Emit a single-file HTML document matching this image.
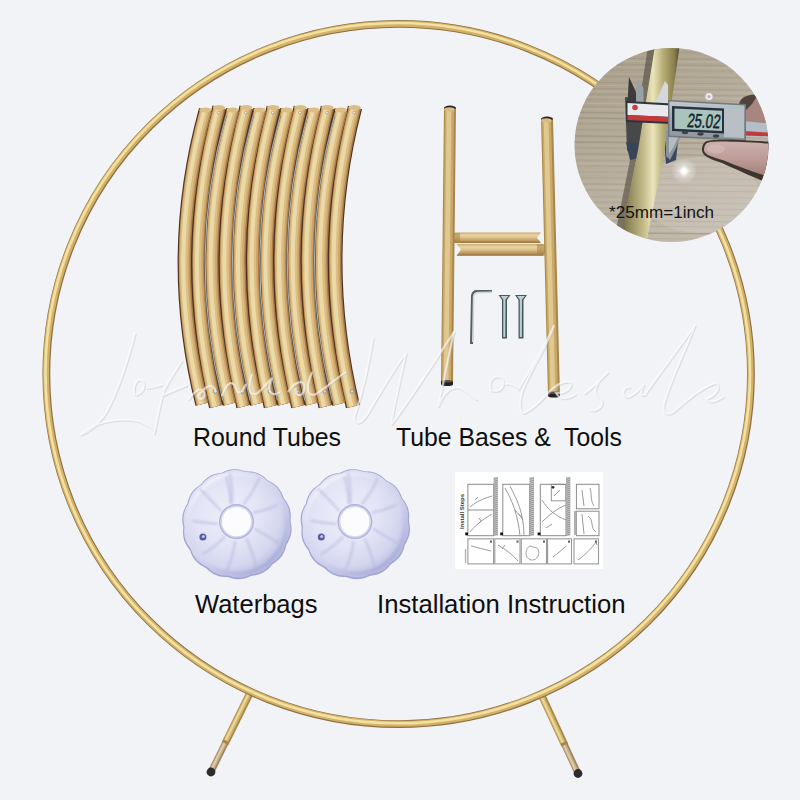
<!DOCTYPE html><html><head><meta charset="utf-8"><style>html,body{margin:0;padding:0;background:#f2f3f6;overflow:hidden}svg{display:block}</style></head><body><svg width="800" height="800" viewBox="0 0 800 800"><defs><linearGradient id="cbar" x1="0" y1="0" x2="0" y2="1"><stop offset="0" stop-color="#c8a66a"/><stop offset="0.25" stop-color="#ead8a6"/><stop offset="0.5" stop-color="#dcc088"/><stop offset="0.85" stop-color="#b48c54"/><stop offset="1" stop-color="#8c6a3c"/></linearGradient><clipPath id="pc"><circle cx="671.5" cy="145" r="97"/></clipPath><linearGradient id="wood" x1="0.1" y1="0" x2="0.7" y2="1"><stop offset="0" stop-color="#a89d88"/><stop offset="0.5" stop-color="#b6ad9c"/><stop offset="1" stop-color="#c4bdb0"/></linearGradient><linearGradient id="gtube" x1="0" y1="0" x2="1" y2="0"><stop offset="0" stop-color="#5a5436"/><stop offset="0.15" stop-color="#8a8256"/><stop offset="0.4" stop-color="#c2ba88"/><stop offset="0.56" stop-color="#eae4bc"/><stop offset="0.72" stop-color="#b8ae74"/><stop offset="0.9" stop-color="#8a7e4e"/><stop offset="1" stop-color="#46402c"/></linearGradient><radialGradient id="flare"><stop offset="0" stop-color="#ffffff" stop-opacity="1"/><stop offset="0.18" stop-color="#ffffff" stop-opacity="0.95"/><stop offset="0.45" stop-color="#f4f4f4" stop-opacity="0.45"/><stop offset="1" stop-color="#ffffff" stop-opacity="0"/></radialGradient><linearGradient id="skin" x1="0" y1="0" x2="0" y2="1"><stop offset="0" stop-color="#cdb0ac"/><stop offset="0.5" stop-color="#bc9a96"/><stop offset="1" stop-color="#a07c78"/></linearGradient><linearGradient id="body" x1="0" y1="0" x2="0" y2="1"><stop offset="0" stop-color="#c4ccd2"/><stop offset="0.3" stop-color="#a8b0b6"/><stop offset="1" stop-color="#8e969c"/></linearGradient><radialGradient id="bagg" cx="0.42" cy="0.4" r="0.62"><stop offset="0" stop-color="#eeeffa"/><stop offset="0.5" stop-color="#e2e3f5"/><stop offset="0.8" stop-color="#d4d6ee"/><stop offset="1" stop-color="#b6b9e0"/></radialGradient><linearGradient id="bagrim" x1="0.2" y1="0.1" x2="0.8" y2="0.95"><stop offset="0" stop-color="#ffffff" stop-opacity="0.5"/><stop offset="0.5" stop-color="#c0c3e6" stop-opacity="0"/><stop offset="1" stop-color="#9094ca" stop-opacity="0.45"/></linearGradient><filter id="blur1" x="-20%" y="-20%" width="140%" height="140%"><feGaussianBlur stdDeviation="1.3"/></filter></defs><rect width="800" height="800" fill="#f2f3f6"/><line x1="249.5" y1="694" x2="226.4" y2="740.8" stroke="#a88848" stroke-width="7.4"/><line x1="248.9" y1="694" x2="225.8" y2="740.8" stroke="#d2b46c" stroke-width="5"/><line x1="248.5" y1="694" x2="225.4" y2="740.8" stroke="#ecd89a" stroke-width="2"/><line x1="226.4" y1="740.8" x2="211" y2="772" stroke="#9c8462" stroke-width="6.6"/><line x1="225.9" y1="740.8" x2="210.5" y2="772" stroke="#c8b08c" stroke-width="4.2"/><line x1="225.5" y1="740.8" x2="210.1" y2="772" stroke="#e0ceaa" stroke-width="1.6"/><line x1="226.4" y1="740.8" x2="225.168" y2="743.2959999999999" stroke="#a88848" stroke-width="7.4"/><circle cx="211" cy="772" r="4.4" fill="#2c2c2c"/><line x1="542" y1="696" x2="563.6" y2="742.5" stroke="#a88848" stroke-width="7.4"/><line x1="541.4" y1="696" x2="563.0" y2="742.5" stroke="#d2b46c" stroke-width="5"/><line x1="541" y1="696" x2="562.6" y2="742.5" stroke="#ecd89a" stroke-width="2"/><line x1="563.6" y1="742.5" x2="578" y2="773.5" stroke="#9c8462" stroke-width="6.6"/><line x1="563.1" y1="742.5" x2="577.5" y2="773.5" stroke="#c8b08c" stroke-width="4.2"/><line x1="562.7" y1="742.5" x2="577.1" y2="773.5" stroke="#e0ceaa" stroke-width="1.6"/><line x1="563.6" y1="742.5" x2="564.7520000000001" y2="744.98" stroke="#a88848" stroke-width="7.4"/><circle cx="578" cy="773.5" r="4.4" fill="#2c2c2c"/><ellipse cx="398.65" cy="374.05" rx="352.3" ry="350.1" fill="none" stroke="#8c7046" stroke-width="7.8"/><ellipse cx="398.34999999999997" cy="373.75" rx="352.3" ry="350.1" fill="none" stroke="#d4b068" stroke-width="6"/><ellipse cx="397.75" cy="373.15000000000003" rx="352.3" ry="350.1" fill="none" stroke="#f2e2a0" stroke-width="2.6"/><path d="M206.0,110.0 Q165.5,256 202.5,404.0" fill="none" stroke="#4e3222" stroke-width="14.5"/><path d="M219.5,107.5 Q179.2,256 216.2,406.5" fill="none" stroke="#4e3222" stroke-width="14.5"/><path d="M233.1,110.0 Q193.0,256 229.9,404.0" fill="none" stroke="#4e3222" stroke-width="14.5"/><path d="M246.6,107.5 Q206.7,256 243.5,406.5" fill="none" stroke="#4e3222" stroke-width="14.5"/><path d="M260.2,110.0 Q220.4,256 257.2,404.0" fill="none" stroke="#4e3222" stroke-width="14.5"/><path d="M273.7,107.5 Q234.1,256 270.9,406.5" fill="none" stroke="#4e3222" stroke-width="14.5"/><path d="M287.3,110.0 Q247.9,256 284.6,404.0" fill="none" stroke="#4e3222" stroke-width="14.5"/><path d="M300.8,107.5 Q261.6,256 298.3,406.5" fill="none" stroke="#4e3222" stroke-width="14.5"/><path d="M314.4,110.0 Q275.3,256 312.0,404.0" fill="none" stroke="#4e3222" stroke-width="14.5"/><path d="M327.9,107.5 Q289.0,256 325.6,406.5" fill="none" stroke="#4e3222" stroke-width="14.5"/><path d="M341.5,110.0 Q302.8,256 339.3,404.0" fill="none" stroke="#4e3222" stroke-width="14.5"/><path d="M355.0,107.5 Q316.5,256 353.0,406.5" fill="none" stroke="#4e3222" stroke-width="14.5"/><path d="M206.0,110.0 Q165.5,256 202.5,404.0" fill="none" stroke="#a47c4c" stroke-width="12.3"/><path d="M205.5,110.0 Q165.0,256 202.0,404.0" fill="none" stroke="#cfa66a" stroke-width="10.4"/><path d="M205.0,110.0 Q164.5,256 201.5,404.0" fill="none" stroke="#dcbe84" stroke-width="7.6"/><path d="M204.5,110.0 Q164.0,256 201.0,404.0" fill="none" stroke="#ebdaa8" stroke-width="4"/><ellipse cx="205.5" cy="110.0" rx="6.1" ry="2.6" fill="#dcbe84"/><path d="M233.1,110.0 Q193.0,256 229.9,404.0" fill="none" stroke="#a47c4c" stroke-width="12.3"/><path d="M232.6,110.0 Q192.5,256 229.4,404.0" fill="none" stroke="#cfa66a" stroke-width="10.4"/><path d="M232.1,110.0 Q192.0,256 228.9,404.0" fill="none" stroke="#dcbe84" stroke-width="7.6"/><path d="M231.6,110.0 Q191.5,256 228.4,404.0" fill="none" stroke="#ebdaa8" stroke-width="4"/><ellipse cx="232.6" cy="110.0" rx="6.1" ry="2.6" fill="#dcbe84"/><path d="M260.2,110.0 Q220.4,256 257.2,404.0" fill="none" stroke="#a47c4c" stroke-width="12.3"/><path d="M259.7,110.0 Q219.9,256 256.7,404.0" fill="none" stroke="#cfa66a" stroke-width="10.4"/><path d="M259.2,110.0 Q219.4,256 256.2,404.0" fill="none" stroke="#dcbe84" stroke-width="7.6"/><path d="M258.7,110.0 Q218.9,256 255.7,404.0" fill="none" stroke="#ebdaa8" stroke-width="4"/><ellipse cx="259.7" cy="110.0" rx="6.1" ry="2.6" fill="#dcbe84"/><path d="M287.3,110.0 Q247.9,256 284.6,404.0" fill="none" stroke="#a47c4c" stroke-width="12.3"/><path d="M286.8,110.0 Q247.4,256 284.1,404.0" fill="none" stroke="#cfa66a" stroke-width="10.4"/><path d="M286.3,110.0 Q246.9,256 283.6,404.0" fill="none" stroke="#dcbe84" stroke-width="7.6"/><path d="M285.8,110.0 Q246.4,256 283.1,404.0" fill="none" stroke="#ebdaa8" stroke-width="4"/><ellipse cx="286.8" cy="110.0" rx="6.1" ry="2.6" fill="#dcbe84"/><path d="M314.4,110.0 Q275.3,256 312.0,404.0" fill="none" stroke="#a47c4c" stroke-width="12.3"/><path d="M313.9,110.0 Q274.8,256 311.5,404.0" fill="none" stroke="#cfa66a" stroke-width="10.4"/><path d="M313.4,110.0 Q274.3,256 311.0,404.0" fill="none" stroke="#dcbe84" stroke-width="7.6"/><path d="M312.9,110.0 Q273.8,256 310.5,404.0" fill="none" stroke="#ebdaa8" stroke-width="4"/><ellipse cx="313.9" cy="110.0" rx="6.1" ry="2.6" fill="#dcbe84"/><path d="M341.5,110.0 Q302.8,256 339.3,404.0" fill="none" stroke="#a47c4c" stroke-width="12.3"/><path d="M341.0,110.0 Q302.3,256 338.8,404.0" fill="none" stroke="#cfa66a" stroke-width="10.4"/><path d="M340.5,110.0 Q301.8,256 338.3,404.0" fill="none" stroke="#dcbe84" stroke-width="7.6"/><path d="M340.0,110.0 Q301.3,256 337.8,404.0" fill="none" stroke="#ebdaa8" stroke-width="4"/><ellipse cx="341.0" cy="110.0" rx="6.1" ry="2.6" fill="#dcbe84"/><path d="M219.5,107.5 Q179.2,256 216.2,406.5" fill="none" stroke="#a47c4c" stroke-width="12.3"/><path d="M219.0,107.5 Q178.7,256 215.7,406.5" fill="none" stroke="#cfa66a" stroke-width="10.4"/><path d="M218.5,107.5 Q178.2,256 215.2,406.5" fill="none" stroke="#dcbe84" stroke-width="7.6"/><path d="M218.0,107.5 Q177.7,256 214.7,406.5" fill="none" stroke="#ebdaa8" stroke-width="4"/><ellipse cx="219.0" cy="107.5" rx="6.1" ry="2.6" fill="#dcbe84"/><path d="M246.6,107.5 Q206.7,256 243.5,406.5" fill="none" stroke="#a47c4c" stroke-width="12.3"/><path d="M246.1,107.5 Q206.2,256 243.0,406.5" fill="none" stroke="#cfa66a" stroke-width="10.4"/><path d="M245.6,107.5 Q205.7,256 242.5,406.5" fill="none" stroke="#dcbe84" stroke-width="7.6"/><path d="M245.1,107.5 Q205.2,256 242.0,406.5" fill="none" stroke="#ebdaa8" stroke-width="4"/><ellipse cx="246.1" cy="107.5" rx="6.1" ry="2.6" fill="#dcbe84"/><path d="M273.7,107.5 Q234.1,256 270.9,406.5" fill="none" stroke="#a47c4c" stroke-width="12.3"/><path d="M273.2,107.5 Q233.6,256 270.4,406.5" fill="none" stroke="#cfa66a" stroke-width="10.4"/><path d="M272.7,107.5 Q233.1,256 269.9,406.5" fill="none" stroke="#dcbe84" stroke-width="7.6"/><path d="M272.2,107.5 Q232.6,256 269.4,406.5" fill="none" stroke="#ebdaa8" stroke-width="4"/><ellipse cx="273.2" cy="107.5" rx="6.1" ry="2.6" fill="#dcbe84"/><path d="M300.8,107.5 Q261.6,256 298.3,406.5" fill="none" stroke="#a47c4c" stroke-width="12.3"/><path d="M300.3,107.5 Q261.1,256 297.8,406.5" fill="none" stroke="#cfa66a" stroke-width="10.4"/><path d="M299.8,107.5 Q260.6,256 297.3,406.5" fill="none" stroke="#dcbe84" stroke-width="7.6"/><path d="M299.3,107.5 Q260.1,256 296.8,406.5" fill="none" stroke="#ebdaa8" stroke-width="4"/><ellipse cx="300.3" cy="107.5" rx="6.1" ry="2.6" fill="#dcbe84"/><path d="M327.9,107.5 Q289.0,256 325.6,406.5" fill="none" stroke="#a47c4c" stroke-width="12.3"/><path d="M327.4,107.5 Q288.5,256 325.1,406.5" fill="none" stroke="#cfa66a" stroke-width="10.4"/><path d="M326.9,107.5 Q288.0,256 324.6,406.5" fill="none" stroke="#dcbe84" stroke-width="7.6"/><path d="M326.4,107.5 Q287.5,256 324.1,406.5" fill="none" stroke="#ebdaa8" stroke-width="4"/><ellipse cx="327.4" cy="107.5" rx="6.1" ry="2.6" fill="#dcbe84"/><path d="M355.0,107.5 Q316.5,256 353.0,406.5" fill="none" stroke="#a47c4c" stroke-width="12.3"/><path d="M354.5,107.5 Q316.0,256 352.5,406.5" fill="none" stroke="#cfa66a" stroke-width="10.4"/><path d="M354.0,107.5 Q315.5,256 352.0,406.5" fill="none" stroke="#dcbe84" stroke-width="7.6"/><path d="M353.5,107.5 Q315.0,256 351.5,406.5" fill="none" stroke="#ebdaa8" stroke-width="4"/><ellipse cx="354.5" cy="107.5" rx="6.1" ry="2.6" fill="#dcbe84"/><path d="M226.1,115.5 Q185.8,256 222.8,400.5" fill="none" stroke="#5a5a58" stroke-width="1.6"/><path d="M226.1,115.5 Q185.8,256 222.8,400.5" fill="none" stroke="#c8c8c4" stroke-width="0.8"/><path d="M253.2,115.5 Q213.3,256 250.1,400.5" fill="none" stroke="#5a5a58" stroke-width="1.6"/><path d="M253.2,115.5 Q213.3,256 250.1,400.5" fill="none" stroke="#c8c8c4" stroke-width="0.8"/><path d="M280.3,115.5 Q240.7,256 277.5,400.5" fill="none" stroke="#5a5a58" stroke-width="1.6"/><path d="M280.3,115.5 Q240.7,256 277.5,400.5" fill="none" stroke="#c8c8c4" stroke-width="0.8"/><path d="M307.4,115.5 Q268.2,256 304.9,400.5" fill="none" stroke="#5a5a58" stroke-width="1.6"/><path d="M307.4,115.5 Q268.2,256 304.9,400.5" fill="none" stroke="#c8c8c4" stroke-width="0.8"/><path d="M334.5,115.5 Q295.6,256 332.2,400.5" fill="none" stroke="#5a5a58" stroke-width="1.6"/><path d="M334.5,115.5 Q295.6,256 332.2,400.5" fill="none" stroke="#c8c8c4" stroke-width="0.8"/><circle cx="218.5" cy="112.5" r="1.3" fill="#f4f0e8" stroke="#8a7a60" stroke-width="0.5"/><circle cx="245.6" cy="112.5" r="1.3" fill="#f4f0e8" stroke="#8a7a60" stroke-width="0.5"/><circle cx="272.7" cy="112.5" r="1.3" fill="#f4f0e8" stroke="#8a7a60" stroke-width="0.5"/><circle cx="299.8" cy="112.5" r="1.3" fill="#f4f0e8" stroke="#8a7a60" stroke-width="0.5"/><circle cx="326.9" cy="112.5" r="1.3" fill="#f4f0e8" stroke="#8a7a60" stroke-width="0.5"/><circle cx="354.0" cy="112.5" r="1.3" fill="#f4f0e8" stroke="#8a7a60" stroke-width="0.5"/><circle cx="215.2" cy="391.5" r="1.8" fill="#d8d8d8" stroke="#707070" stroke-width="0.6"/><circle cx="242.5" cy="391.5" r="1.8" fill="#d8d8d8" stroke="#707070" stroke-width="0.6"/><circle cx="269.9" cy="391.5" r="1.8" fill="#d8d8d8" stroke="#707070" stroke-width="0.6"/><circle cx="297.3" cy="391.5" r="1.8" fill="#d8d8d8" stroke="#707070" stroke-width="0.6"/><circle cx="324.6" cy="391.5" r="1.8" fill="#d8d8d8" stroke="#707070" stroke-width="0.6"/><circle cx="352.0" cy="391.5" r="1.8" fill="#d8d8d8" stroke="#707070" stroke-width="0.6"/><path d="M454,232.5 L541,232.5 L537,237.8 L541,243 L454,243 Q450,238 454,232.5 Z" fill="url(#cbar)"/><path d="M452,233 L460,233 L460,243 L452,243 Q449,238 452,233 Z" fill="#a8844c" opacity="0.55"/><path d="M456.5,244 L543,244 Q548,250 543,255.7 L456.5,255.7 L461,249.8 Z" fill="url(#cbar)"/><path d="M537,244 L545,244 Q548,250 545,255.7 L537,255.7 Z" fill="#a8844c" opacity="0.55"/><line x1="450" y1="107" x2="447" y2="384.5" stroke="#a8874c" stroke-width="12"/><line x1="449.5" y1="107" x2="446.5" y2="384.5" stroke="#c9a86a" stroke-width="9"/><line x1="449" y1="107" x2="446" y2="384.5" stroke="#e0c88e" stroke-width="4.800000000000001"/><ellipse cx="450" cy="108" rx="5.7" ry="2.6" fill="#2a2520"/><ellipse cx="449.5" cy="109.4" rx="5.2" ry="2.2" fill="#d8bc84"/><path d="M441.0,381.3 L453.0,381.3 L453.0,384.5 A6.0,1.6 0 0 1 441.0,384.5 Z" fill="#242020"/><ellipse cx="447" cy="381.3" rx="5.6" ry="1.2" fill="#5a5048"/><line x1="547" y1="118" x2="554" y2="396" stroke="#a8874c" stroke-width="12"/><line x1="546.5" y1="118" x2="553.5" y2="396" stroke="#c9a86a" stroke-width="9"/><line x1="546" y1="118" x2="553" y2="396" stroke="#e0c88e" stroke-width="4.800000000000001"/><ellipse cx="547" cy="119" rx="5.7" ry="2.6" fill="#2a2520"/><ellipse cx="546.5" cy="120.4" rx="5.2" ry="2.2" fill="#d8bc84"/><path d="M548.0,392.8 L560.0,392.8 L560.0,396 A6.0,1.6 0 0 1 548.0,396 Z" fill="#242020"/><ellipse cx="554" cy="392.8" rx="5.6" ry="1.2" fill="#5a5048"/><path d="M471.5,344 L472.5,296 Q473,291.5 477,291.5 L492,291.5" fill="none" stroke="#56605e" stroke-width="3"/><path d="M472.8,342 L473.6,296.5 Q474,293 477.5,292.6 L492,292.2" fill="none" stroke="#cfd8d6" stroke-width="1.6"/><path d="M498.5,295 L510.5,295 L507.0,300 L507.0,338.5 L502.0,338.5 L502.0,300 Z" fill="#4a5858"/><path d="M500.5,296 L508.5,296 L505.5,299.5 L505.3,337 L503.3,337 L503.3,299.5 Z" fill="#b9d0d8"/><path d="M515,295 L527,295 L523.5,300 L523.5,338.5 L518.5,338.5 L518.5,300 Z" fill="#4a5858"/><path d="M517,296 L525,296 L522,299.5 L521.8,337 L519.8,337 L519.8,299.5 Z" fill="#b9d0d8"/><g clip-path="url(#pc)"><rect x="570" y="45" width="205" height="205" fill="url(#wood)"/><line x1="570" y1="45.8" x2="775" y2="47.8" stroke="#8e8472" stroke-width="1.3" opacity="0.20"/><line x1="570" y1="48.6" x2="775" y2="50.6" stroke="#cac2b2" stroke-width="1.1" opacity="0.31"/><line x1="570" y1="51.6" x2="775" y2="53.6" stroke="#8e8472" stroke-width="0.8" opacity="0.30"/><line x1="570" y1="54.9" x2="775" y2="56.9" stroke="#cac2b2" stroke-width="0.9" opacity="0.17"/><line x1="570" y1="57.9" x2="775" y2="59.9" stroke="#8e8472" stroke-width="0.9" opacity="0.40"/><line x1="570" y1="60.7" x2="775" y2="62.7" stroke="#cac2b2" stroke-width="1.5" opacity="0.34"/><line x1="570" y1="64.1" x2="775" y2="66.1" stroke="#8e8472" stroke-width="1.5" opacity="0.27"/><line x1="570" y1="66.5" x2="775" y2="68.5" stroke="#cac2b2" stroke-width="1.0" opacity="0.41"/><line x1="570" y1="69.6" x2="775" y2="71.6" stroke="#8e8472" stroke-width="1.0" opacity="0.19"/><line x1="570" y1="73.3" x2="775" y2="75.3" stroke="#cac2b2" stroke-width="1.2" opacity="0.20"/><line x1="570" y1="76.1" x2="775" y2="78.1" stroke="#8e8472" stroke-width="1.2" opacity="0.26"/><line x1="570" y1="78.6" x2="775" y2="80.6" stroke="#cac2b2" stroke-width="0.9" opacity="0.17"/><line x1="570" y1="82.2" x2="775" y2="84.2" stroke="#8e8472" stroke-width="1.0" opacity="0.28"/><line x1="570" y1="85.1" x2="775" y2="87.1" stroke="#cac2b2" stroke-width="1.0" opacity="0.29"/><line x1="570" y1="88.3" x2="775" y2="90.3" stroke="#8e8472" stroke-width="1.0" opacity="0.36"/><line x1="570" y1="91.1" x2="775" y2="93.1" stroke="#cac2b2" stroke-width="1.4" opacity="0.31"/><line x1="570" y1="94.2" x2="775" y2="96.2" stroke="#8e8472" stroke-width="1.5" opacity="0.24"/><line x1="570" y1="96.6" x2="775" y2="98.6" stroke="#cac2b2" stroke-width="1.3" opacity="0.28"/><line x1="570" y1="99.7" x2="775" y2="101.7" stroke="#8e8472" stroke-width="0.8" opacity="0.30"/><line x1="570" y1="103.2" x2="775" y2="105.2" stroke="#cac2b2" stroke-width="1.2" opacity="0.38"/><line x1="570" y1="106.4" x2="775" y2="108.4" stroke="#8e8472" stroke-width="1.3" opacity="0.24"/><line x1="570" y1="109.1" x2="775" y2="111.1" stroke="#cac2b2" stroke-width="1.1" opacity="0.32"/><line x1="570" y1="112.3" x2="775" y2="114.3" stroke="#8e8472" stroke-width="1.1" opacity="0.43"/><line x1="570" y1="115.2" x2="775" y2="117.2" stroke="#cac2b2" stroke-width="1.3" opacity="0.17"/><line x1="570" y1="118.1" x2="775" y2="120.1" stroke="#8e8472" stroke-width="1.4" opacity="0.45"/><line x1="570" y1="120.8" x2="775" y2="122.8" stroke="#cac2b2" stroke-width="1.3" opacity="0.27"/><line x1="570" y1="123.5" x2="775" y2="125.5" stroke="#8e8472" stroke-width="0.9" opacity="0.29"/><line x1="570" y1="126.6" x2="775" y2="128.6" stroke="#cac2b2" stroke-width="1.3" opacity="0.17"/><line x1="570" y1="129.6" x2="775" y2="131.6" stroke="#8e8472" stroke-width="1.1" opacity="0.22"/><line x1="570" y1="133.4" x2="775" y2="135.4" stroke="#cac2b2" stroke-width="1.1" opacity="0.17"/><line x1="570" y1="136.0" x2="775" y2="138.0" stroke="#8e8472" stroke-width="1.4" opacity="0.42"/><line x1="570" y1="139.4" x2="775" y2="141.4" stroke="#cac2b2" stroke-width="1.1" opacity="0.23"/><line x1="570" y1="141.9" x2="775" y2="143.9" stroke="#8e8472" stroke-width="1.5" opacity="0.42"/><line x1="570" y1="144.7" x2="775" y2="146.7" stroke="#cac2b2" stroke-width="1.0" opacity="0.20"/><line x1="570" y1="147.7" x2="775" y2="149.7" stroke="#8e8472" stroke-width="1.2" opacity="0.30"/><line x1="570" y1="150.8" x2="775" y2="152.8" stroke="#cac2b2" stroke-width="1.1" opacity="0.15"/><line x1="570" y1="153.9" x2="775" y2="155.9" stroke="#8e8472" stroke-width="1.5" opacity="0.32"/><line x1="570" y1="157.2" x2="775" y2="159.2" stroke="#cac2b2" stroke-width="1.2" opacity="0.30"/><line x1="570" y1="160.2" x2="775" y2="162.2" stroke="#8e8472" stroke-width="1.4" opacity="0.17"/><line x1="570" y1="163.3" x2="775" y2="165.3" stroke="#cac2b2" stroke-width="1.4" opacity="0.41"/><line x1="570" y1="165.9" x2="775" y2="167.9" stroke="#8e8472" stroke-width="0.9" opacity="0.27"/><line x1="570" y1="169.1" x2="775" y2="171.1" stroke="#cac2b2" stroke-width="0.8" opacity="0.17"/><line x1="570" y1="171.7" x2="775" y2="173.7" stroke="#8e8472" stroke-width="1.0" opacity="0.20"/><line x1="570" y1="174.6" x2="775" y2="176.6" stroke="#cac2b2" stroke-width="0.9" opacity="0.15"/><line x1="570" y1="177.6" x2="775" y2="179.6" stroke="#8e8472" stroke-width="0.8" opacity="0.26"/><line x1="570" y1="181.4" x2="775" y2="183.4" stroke="#cac2b2" stroke-width="0.9" opacity="0.33"/><line x1="570" y1="183.8" x2="775" y2="185.8" stroke="#8e8472" stroke-width="1.1" opacity="0.25"/><line x1="570" y1="186.6" x2="775" y2="188.6" stroke="#cac2b2" stroke-width="1.5" opacity="0.40"/><line x1="570" y1="190.0" x2="775" y2="192.0" stroke="#8e8472" stroke-width="0.9" opacity="0.30"/><line x1="570" y1="192.6" x2="775" y2="194.6" stroke="#cac2b2" stroke-width="1.0" opacity="0.25"/><line x1="570" y1="196.3" x2="775" y2="198.3" stroke="#8e8472" stroke-width="0.8" opacity="0.20"/><line x1="570" y1="199.5" x2="775" y2="201.5" stroke="#cac2b2" stroke-width="0.9" opacity="0.31"/><line x1="570" y1="202.0" x2="775" y2="204.0" stroke="#8e8472" stroke-width="1.2" opacity="0.16"/><line x1="570" y1="205.5" x2="775" y2="207.5" stroke="#cac2b2" stroke-width="1.3" opacity="0.41"/><line x1="570" y1="207.8" x2="775" y2="209.8" stroke="#8e8472" stroke-width="0.9" opacity="0.26"/><line x1="570" y1="211.3" x2="775" y2="213.3" stroke="#cac2b2" stroke-width="1.3" opacity="0.31"/><line x1="570" y1="213.8" x2="775" y2="215.8" stroke="#8e8472" stroke-width="1.4" opacity="0.22"/><line x1="570" y1="217.5" x2="775" y2="219.5" stroke="#cac2b2" stroke-width="1.4" opacity="0.41"/><line x1="570" y1="220.3" x2="775" y2="222.3" stroke="#8e8472" stroke-width="1.0" opacity="0.37"/><line x1="570" y1="223.0" x2="775" y2="225.0" stroke="#cac2b2" stroke-width="0.8" opacity="0.26"/><line x1="570" y1="225.5" x2="775" y2="227.5" stroke="#8e8472" stroke-width="1.0" opacity="0.23"/><line x1="570" y1="229.2" x2="775" y2="231.2" stroke="#cac2b2" stroke-width="1.1" opacity="0.44"/><line x1="570" y1="232.4" x2="775" y2="234.4" stroke="#8e8472" stroke-width="1.5" opacity="0.45"/><line x1="570" y1="234.9" x2="775" y2="236.9" stroke="#cac2b2" stroke-width="1.0" opacity="0.22"/><line x1="570" y1="237.7" x2="775" y2="239.7" stroke="#8e8472" stroke-width="1.2" opacity="0.21"/><line x1="570" y1="241.4" x2="775" y2="243.4" stroke="#cac2b2" stroke-width="1.1" opacity="0.40"/><ellipse cx="700" cy="195" rx="60" ry="38" fill="#d6d2ca" opacity="0.3"/><path d="M649,40 L657,40 L638,150 L619,250 L612,250 L632,150 Z" fill="#4e4a40" opacity="0.6"/><path d="M625,97 L643,99 L643,148 L632,158 L627,150 Z" fill="#46484a"/><path d="M626,142 L643,144 L640,158 L630,160 Z" fill="#384458"/><path d="M664,140 L678,142 L676,160 L666,164 Z" fill="#3a4860"/><path d="M656,40 L680.5,40 L664.6,150 L645,250 L618,250 L638,150 Z" fill="url(#gtube)"/><path d="M627.5,102 L629,77 L636,92 L636,102 Z" fill="#3c3c3c"/><path d="M636,102 L637,78 L643.5,88 L643.5,103 Z" fill="#9aa2a8"/><path d="M655,103 L665,81 L668,85 L668,104 Z" fill="#d4d8dc"/><path d="M666,130 L682,133 L676,148 L670,160 L666,156 Z" fill="#8c949a"/><path d="M669,132 L680,134 L673,148 L669,154 Z" fill="#b4bcc0"/><path d="M626,101 L672,103.5 L672,124 L626,122 Z" fill="#30343a"/><path d="M627.5,103 L671,105.5 L671,117 L627.5,115 Z" fill="#e8eaee"/><path d="M627.5,115 L671,117 L671,122 L627.5,120 Z" fill="#c23a3a"/><circle cx="635" cy="107.5" r="2.8" fill="#d23c3c"/><path d="M744,117 L775,120 L775,138 L744,137 Z" fill="#b4bec6"/><path d="M744,131 L775,133 L775,136.5 L744,135.5 Z" fill="#c03c3c"/><path d="M739,103 C742,96 752,94 762,96 L775,100 L775,124 L742,121 Z" fill="#a88680"/><path d="M739,104 C741,96 750,94 758,95 L752,104 L744,112 Z" fill="#4e443c"/><path d="M668,100 L746,104 L746,141 L668,137 Z" fill="#6e7880"/><path d="M669.5,101.5 L744.5,105.5 L744.5,139.5 L669.5,135.5 Z" fill="url(#body)"/><path d="M724,108 L744,109 L744,138 L724,137 Z" fill="#b8c0c6"/><path d="M672,106 L724,108.5 L724,133.5 L672,131 Z" fill="#263040"/><path d="M674.5,108.5 L722,110.8 L722,131 L674.5,128.7 Z" fill="#a8c4bc"/><g transform="translate(686.5,127) rotate(2.5) skewX(-6)"><text x="0" y="0" font-family="Liberation Sans" font-size="19.5" fill="#14222e" stroke="#14222e" stroke-width="0.5" textLength="33" lengthAdjust="spacingAndGlyphs">25.02</text></g><ellipse cx="685" cy="132.5" rx="3.2" ry="1.7" fill="#3a4248"/><ellipse cx="700.5" cy="134" rx="3.2" ry="1.7" fill="#3a4248"/><ellipse cx="716" cy="136" rx="3.2" ry="1.7" fill="#3a4248"/><circle cx="709" cy="96.5" r="3.6" fill="#ececf0"/><circle cx="709" cy="96.5" r="1.6" fill="#b0b0b4"/><path d="M707,141 C716,138.5 745,140 775,142 L775,185 C760,181 738,170 722,163 C710,159 702,156 702,150 C702,145 704,142 707,141 Z" fill="#3e3430"/><path d="M708,142.5 C717,140.5 745,142 775,144 L775,178 C760,175 740,167 724,160.5 C712,157 704,154.5 704,150 C704,146 705.5,143.5 708,142.5 Z" fill="url(#skin)"/><ellipse cx="716" cy="149" rx="9" ry="4.5" fill="#d4bcbc" opacity="0.6"/><circle cx="684" cy="171" r="13" fill="url(#flare)"/><path d="M684,163 L684.6,170.4 L692,171 L684.6,171.6 L684,179 L683.4,171.6 L676,171 L683.4,170.4 Z" fill="#ffffff" opacity="0.9"/></g><text x="609" y="218.3" font-family="Liberation Sans" font-size="15.8" fill="#121212" textLength="105" lengthAdjust="spacingAndGlyphs">*25mm=1inch</text><path d="M135,333 C128,360 118,390 107,411 C100,423 88,432 80,435 C92,424 112,417 138,421 C146,424 152,428 155,431" fill="none" stroke="#b4b4bc" stroke-width="2" opacity="0.35" transform="translate(0.9,1)"/><path d="M135,395 C132,386 137,378 141,380 C146,383 145,392 136,395 M146,388 C152,388 156,386 162,385" fill="none" stroke="#b4b4bc" stroke-width="2" opacity="0.35" transform="translate(0.9,1)"/><path d="M182,360 C175,372 168,382 164,390 C160,402 157,420 154,434 M161,396 C170,392 178,389 187,385" fill="none" stroke="#b4b4bc" stroke-width="2" opacity="0.35" transform="translate(0.9,1)"/><path d="M188,400 C194,392 200,386 204,392 C206,398 200,402 198,396 C204,388 212,380 216,392 M222,396 C226,384 232,378 236,388 C238,396 242,392 246,384 M252,374 C248,386 248,396 256,394 C262,390 266,384 272,378 C266,390 270,398 280,392 M288,392 C296,380 306,378 304,390 C302,398 294,396 296,388 M312,372 C306,386 306,398 316,394 C326,388 336,378 346,372" fill="none" stroke="#b4b4bc" stroke-width="2" opacity="0.35" transform="translate(0.9,1)"/><path d="M373,337 C368,370 360,400 354,418 C356,426 362,424 370,410 C384,386 396,366 406,353 C400,380 394,405 391,425 C410,400 430,368 454,332" fill="none" stroke="#b4b4bc" stroke-width="2" opacity="0.35" transform="translate(0.9,1)"/><path d="M454,331 C448,360 442,388 438,407 C444,392 452,386 460,388 C466,390 470,396 477,400" fill="none" stroke="#b4b4bc" stroke-width="2" opacity="0.35" transform="translate(0.9,1)"/><path d="M491,389 C488,380 494,375 500,377 C506,380 504,390 496,391 C492,391 490,390 491,389 M505,384 C508,383 512,384 518,388" fill="none" stroke="#b4b4bc" stroke-width="2" opacity="0.35" transform="translate(0.9,1)"/><path d="M518,390 C530,370 548,340 554,325 C548,345 530,370 522,392 C519,404 520,414 524,413 C530,410 538,404 545,396" fill="none" stroke="#b4b4bc" stroke-width="2" opacity="0.35" transform="translate(0.9,1)"/><path d="M545,396 C552,388 562,380 570,382 C574,386 566,394 556,393 C560,400 566,400 576,394" fill="none" stroke="#b4b4bc" stroke-width="2" opacity="0.35" transform="translate(0.9,1)"/><path d="M584,394 C592,388 600,380 608,372 C598,380 590,392 600,398 C606,404 598,412 590,410" fill="none" stroke="#b4b4bc" stroke-width="2" opacity="0.35" transform="translate(0.9,1)"/><path d="M630,388 C624,384 620,396 627,397 C634,397 640,388 644,384 C640,392 640,398 646,394" fill="none" stroke="#b4b4bc" stroke-width="2" opacity="0.35" transform="translate(0.9,1)"/><path d="M646,393 C662,370 685,340 695,325 C688,345 670,380 664,404 C662,414 668,418 678,408" fill="none" stroke="#b4b4bc" stroke-width="2" opacity="0.35" transform="translate(0.9,1)"/><path d="M678,408 C690,398 704,386 716,383 C722,386 716,396 706,399 C710,404 716,402 724,396" fill="none" stroke="#b4b4bc" stroke-width="2" opacity="0.35" transform="translate(0.9,1)"/><path d="M135,333 C128,360 118,390 107,411 C100,423 88,432 80,435 C92,424 112,417 138,421 C146,424 152,428 155,431" fill="none" stroke="#ffffff" stroke-width="2" opacity="0.62"/><path d="M135,395 C132,386 137,378 141,380 C146,383 145,392 136,395 M146,388 C152,388 156,386 162,385" fill="none" stroke="#ffffff" stroke-width="2" opacity="0.62"/><path d="M182,360 C175,372 168,382 164,390 C160,402 157,420 154,434 M161,396 C170,392 178,389 187,385" fill="none" stroke="#ffffff" stroke-width="2" opacity="0.62"/><path d="M188,400 C194,392 200,386 204,392 C206,398 200,402 198,396 C204,388 212,380 216,392 M222,396 C226,384 232,378 236,388 C238,396 242,392 246,384 M252,374 C248,386 248,396 256,394 C262,390 266,384 272,378 C266,390 270,398 280,392 M288,392 C296,380 306,378 304,390 C302,398 294,396 296,388 M312,372 C306,386 306,398 316,394 C326,388 336,378 346,372" fill="none" stroke="#ffffff" stroke-width="2" opacity="0.62"/><path d="M373,337 C368,370 360,400 354,418 C356,426 362,424 370,410 C384,386 396,366 406,353 C400,380 394,405 391,425 C410,400 430,368 454,332" fill="none" stroke="#ffffff" stroke-width="2" opacity="0.62"/><path d="M454,331 C448,360 442,388 438,407 C444,392 452,386 460,388 C466,390 470,396 477,400" fill="none" stroke="#ffffff" stroke-width="2" opacity="0.62"/><path d="M491,389 C488,380 494,375 500,377 C506,380 504,390 496,391 C492,391 490,390 491,389 M505,384 C508,383 512,384 518,388" fill="none" stroke="#ffffff" stroke-width="2" opacity="0.62"/><path d="M518,390 C530,370 548,340 554,325 C548,345 530,370 522,392 C519,404 520,414 524,413 C530,410 538,404 545,396" fill="none" stroke="#ffffff" stroke-width="2" opacity="0.62"/><path d="M545,396 C552,388 562,380 570,382 C574,386 566,394 556,393 C560,400 566,400 576,394" fill="none" stroke="#ffffff" stroke-width="2" opacity="0.62"/><path d="M584,394 C592,388 600,380 608,372 C598,380 590,392 600,398 C606,404 598,412 590,410" fill="none" stroke="#ffffff" stroke-width="2" opacity="0.62"/><path d="M630,388 C624,384 620,396 627,397 C634,397 640,388 644,384 C640,392 640,398 646,394" fill="none" stroke="#ffffff" stroke-width="2" opacity="0.62"/><path d="M646,393 C662,370 685,340 695,325 C688,345 670,380 664,404 C662,414 668,418 678,408" fill="none" stroke="#ffffff" stroke-width="2" opacity="0.62"/><path d="M678,408 C690,398 704,386 716,383 C722,386 716,396 706,399 C710,404 716,402 724,396" fill="none" stroke="#ffffff" stroke-width="2" opacity="0.62"/><text x="193" y="445.8" font-family="Liberation Sans" font-size="26.5" fill="#0e0e0e" textLength="148" lengthAdjust="spacingAndGlyphs">Round Tubes</text><text x="396" y="445.8" font-family="Liberation Sans" font-size="26.5" fill="#0e0e0e" textLength="226" lengthAdjust="spacingAndGlyphs" xml:space="preserve">Tube Bases &amp;  Tools</text><text x="195" y="613.4" font-family="Liberation Sans" font-size="26.5" fill="#0e0e0e" textLength="122.5" lengthAdjust="spacingAndGlyphs">Waterbags</text><text x="377" y="613.4" font-family="Liberation Sans" font-size="26.5" fill="#0e0e0e" textLength="248.5" lengthAdjust="spacingAndGlyphs">Installation Instruction</text><path d="M291.1,524.2 L291.4,526.3 L291.6,528.5 L291.5,530.7 L291.3,532.8 L290.9,534.9 L290.3,537.0 L289.5,539.0 L288.6,541.0 L287.6,542.9 L286.4,544.7 L286.0,546.8 L285.4,548.9 L284.6,550.9 L283.7,552.9 L282.7,554.8 L281.5,556.6 L280.1,558.3 L278.6,559.8 L276.9,561.2 L275.2,562.5 L273.4,563.7 L271.9,565.1 L270.5,566.8 L269.0,568.4 L267.4,569.8 L265.7,571.1 L263.8,572.3 L261.9,573.3 L259.9,574.1 L257.8,574.7 L255.7,575.2 L253.6,575.5 L251.5,575.9 L249.5,576.8 L247.5,577.6 L245.5,578.3 L243.4,578.8 L241.2,579.1 L239.1,579.2 L236.9,579.2 L234.7,578.9 L232.6,578.5 L230.5,577.9 L228.5,577.2 L226.4,577.1 L224.2,577.0 L222.1,576.8 L219.9,576.4 L217.8,575.8 L215.8,575.1 L213.9,574.2 L212.0,573.1 L210.2,571.8 L208.5,570.5 L207.0,569.0 L205.3,567.7 L203.4,566.7 L201.5,565.6 L199.7,564.4 L198.0,563.1 L196.4,561.6 L195.0,560.0 L193.7,558.2 L192.6,556.4 L191.6,554.4 L190.8,552.4 L190.1,550.4 L188.8,548.7 L187.5,547.0 L186.4,545.1 L185.4,543.2 L184.5,541.2 L183.9,539.2 L183.4,537.0 L183.1,534.9 L183.0,532.7 L183.1,530.6 L183.2,528.4 L183.2,526.3 L182.7,524.2 L182.4,522.1 L182.2,519.9 L182.3,517.7 L182.5,515.6 L182.9,513.5 L183.5,511.4 L184.3,509.4 L185.2,507.4 L186.2,505.5 L187.4,503.7 L187.8,501.6 L188.4,499.5 L189.2,497.5 L190.1,495.5 L191.1,493.6 L192.3,491.8 L193.7,490.1 L195.2,488.6 L196.9,487.2 L198.6,485.9 L200.4,484.7 L201.9,483.3 L203.3,481.6 L204.8,480.0 L206.4,478.6 L208.1,477.3 L210.0,476.1 L211.9,475.1 L213.9,474.3 L216.0,473.7 L218.1,473.2 L220.2,472.9 L222.3,472.5 L224.3,471.6 L226.3,470.8 L228.3,470.1 L230.4,469.6 L232.6,469.3 L234.7,469.2 L236.9,469.2 L239.1,469.5 L241.2,469.9 L243.3,470.5 L245.3,471.2 L247.4,471.3 L249.6,471.4 L251.7,471.6 L253.9,472.0 L256.0,472.6 L258.0,473.3 L259.9,474.2 L261.8,475.3 L263.6,476.6 L265.3,477.9 L266.8,479.4 L268.5,480.7 L270.4,481.7 L272.3,482.8 L274.1,484.0 L275.8,485.3 L277.4,486.8 L278.8,488.4 L280.1,490.2 L281.2,492.0 L282.2,494.0 L283.0,496.0 L283.7,498.0 L285.0,499.7 L286.3,501.4 L287.4,503.3 L288.4,505.2 L289.3,507.2 L289.9,509.2 L290.4,511.4 L290.7,513.5 L290.8,515.7 L290.7,517.8 L290.6,520.0 L290.6,522.1Z" fill="#a2a5d4"/><path d="M289.9,523.8 L290.2,525.9 L290.4,528.0 L290.3,530.1 L290.1,532.2 L289.7,534.3 L289.1,536.3 L288.4,538.3 L287.5,540.2 L286.4,542.1 L285.3,543.9 L284.9,545.9 L284.3,547.9 L283.6,549.9 L282.7,551.9 L281.7,553.7 L280.5,555.5 L279.2,557.1 L277.7,558.6 L276.1,560.0 L274.4,561.3 L272.6,562.4 L271.1,563.8 L269.7,565.5 L268.3,567.0 L266.7,568.4 L265.0,569.7 L263.2,570.8 L261.4,571.8 L259.4,572.6 L257.4,573.2 L255.3,573.6 L253.2,574.0 L251.1,574.3 L249.2,575.2 L247.3,576.0 L245.3,576.7 L243.2,577.2 L241.1,577.5 L239.0,577.6 L236.9,577.6 L234.8,577.3 L232.7,576.9 L230.7,576.3 L228.7,575.7 L226.6,575.5 L224.5,575.4 L222.4,575.2 L220.3,574.9 L218.3,574.3 L216.3,573.6 L214.4,572.7 L212.5,571.6 L210.8,570.4 L209.2,569.1 L207.6,567.6 L206.0,566.3 L204.1,565.4 L202.3,564.3 L200.5,563.1 L198.9,561.8 L197.3,560.4 L195.9,558.8 L194.7,557.1 L193.6,555.3 L192.6,553.4 L191.8,551.4 L191.1,549.4 L189.9,547.8 L188.6,546.0 L187.5,544.3 L186.5,542.4 L185.7,540.4 L185.0,538.4 L184.6,536.4 L184.3,534.3 L184.2,532.1 L184.2,530.0 L184.4,527.9 L184.4,525.9 L183.9,523.8 L183.6,521.7 L183.4,519.6 L183.5,517.5 L183.7,515.4 L184.1,513.3 L184.7,511.3 L185.4,509.3 L186.3,507.4 L187.4,505.5 L188.5,503.7 L188.9,501.7 L189.5,499.7 L190.2,497.7 L191.1,495.7 L192.1,493.9 L193.3,492.1 L194.6,490.5 L196.1,489.0 L197.7,487.6 L199.4,486.3 L201.2,485.2 L202.7,483.8 L204.1,482.1 L205.5,480.6 L207.1,479.2 L208.8,477.9 L210.6,476.8 L212.4,475.8 L214.4,475.0 L216.4,474.4 L218.5,474.0 L220.6,473.6 L222.7,473.3 L224.6,472.4 L226.5,471.6 L228.5,470.9 L230.6,470.4 L232.7,470.1 L234.8,470.0 L236.9,470.0 L239.0,470.3 L241.1,470.7 L243.1,471.3 L245.1,471.9 L247.2,472.1 L249.3,472.2 L251.4,472.4 L253.5,472.7 L255.5,473.3 L257.5,474.0 L259.4,474.9 L261.3,476.0 L263.0,477.2 L264.6,478.5 L266.2,480.0 L267.8,481.3 L269.7,482.2 L271.5,483.3 L273.3,484.5 L274.9,485.8 L276.5,487.2 L277.9,488.8 L279.1,490.5 L280.2,492.3 L281.2,494.2 L282.0,496.2 L282.7,498.2 L283.9,499.8 L285.2,501.6 L286.3,503.3 L287.3,505.2 L288.1,507.2 L288.8,509.2 L289.2,511.2 L289.5,513.3 L289.6,515.5 L289.6,517.6 L289.4,519.7 L289.4,521.7Z" fill="url(#bagg)"/><g filter="url(#blur1)"><circle cx="236.9" cy="523.8000000000001" r="49.5" fill="none" stroke="url(#bagrim)" stroke-width="4"/></g><g filter="url(#blur1)"><path d="M232.0,503.8 Q232.9,489.3 229.8,472.7" stroke="#b4b6dc" stroke-width="2.4" fill="none" opacity="0.55"/><path d="M243.4,504.3 Q253.5,492.0 259.5,477.6" stroke="#b4b6dc" stroke-width="2.4" fill="none" opacity="0.55"/><path d="M253.4,512.7 Q267.5,509.7 277.7,504.8" stroke="#b4b6dc" stroke-width="2.4" fill="none" opacity="0.55"/><path d="M254.8,528.7 Q268.9,537.1 279.0,543.5" stroke="#b4b6dc" stroke-width="2.4" fill="none" opacity="0.55"/><path d="M246.4,538.7 Q253.5,554.4 256.5,568.2" stroke="#b4b6dc" stroke-width="2.4" fill="none" opacity="0.55"/><path d="M235.2,541.1 Q232.9,557.1 226.6,571.1" stroke="#b4b6dc" stroke-width="2.4" fill="none" opacity="0.55"/><path d="M224.7,536.8 Q215.6,546.6 202.5,554.5" stroke="#b4b6dc" stroke-width="2.4" fill="none" opacity="0.55"/><path d="M218.0,523.9 Q207.2,523.3 192.5,520.7" stroke="#b4b6dc" stroke-width="2.4" fill="none" opacity="0.55"/><path d="M221.3,511.3 Q212.5,501.1 199.7,488.8" stroke="#b4b6dc" stroke-width="2.4" fill="none" opacity="0.55"/><path d="M230.4,504.3 Q230.3,491.3 226.2,476.2" stroke="#b4b6dc" stroke-width="2.4" fill="none" opacity="0.55"/></g><circle cx="236.5" cy="521.6" r="17.5" fill="#aeb2da"/><circle cx="236.5" cy="521.6" r="16.2" fill="#d4d7ee"/><circle cx="236.5" cy="521.6" r="14.6" fill="#fcfcff"/><circle cx="202.9" cy="537.0" r="3.5" fill="#565ca4"/><circle cx="203.3" cy="536.6" r="1.5" fill="#c4c8ee"/><path d="M409.5,524.2 L409.8,526.3 L410.0,528.5 L409.9,530.7 L409.7,532.8 L409.3,534.9 L408.7,537.0 L407.9,539.0 L407.0,541.0 L406.0,542.9 L404.8,544.7 L404.4,546.8 L403.8,548.9 L403.0,550.9 L402.1,552.9 L401.1,554.8 L399.9,556.6 L398.5,558.3 L397.0,559.8 L395.3,561.2 L393.6,562.5 L391.8,563.7 L390.3,565.1 L388.9,566.8 L387.4,568.4 L385.8,569.8 L384.1,571.1 L382.2,572.3 L380.3,573.3 L378.3,574.1 L376.2,574.7 L374.1,575.2 L372.0,575.5 L369.9,575.9 L367.9,576.8 L365.9,577.6 L363.9,578.3 L361.8,578.8 L359.6,579.1 L357.5,579.2 L355.3,579.2 L353.1,578.9 L351.0,578.5 L348.9,577.9 L346.9,577.2 L344.8,577.1 L342.6,577.0 L340.5,576.8 L338.3,576.4 L336.2,575.8 L334.2,575.1 L332.3,574.2 L330.4,573.1 L328.6,571.8 L326.9,570.5 L325.4,569.0 L323.7,567.7 L321.8,566.7 L319.9,565.6 L318.1,564.4 L316.4,563.1 L314.8,561.6 L313.4,560.0 L312.1,558.2 L311.0,556.4 L310.0,554.4 L309.2,552.4 L308.5,550.4 L307.2,548.7 L305.9,547.0 L304.8,545.1 L303.8,543.2 L302.9,541.2 L302.3,539.2 L301.8,537.0 L301.5,534.9 L301.4,532.7 L301.5,530.6 L301.6,528.4 L301.6,526.3 L301.1,524.2 L300.8,522.1 L300.6,519.9 L300.7,517.7 L300.9,515.6 L301.3,513.5 L301.9,511.4 L302.7,509.4 L303.6,507.4 L304.6,505.5 L305.8,503.7 L306.2,501.6 L306.8,499.5 L307.6,497.5 L308.5,495.5 L309.5,493.6 L310.7,491.8 L312.1,490.1 L313.6,488.6 L315.3,487.2 L317.0,485.9 L318.8,484.7 L320.3,483.3 L321.7,481.6 L323.2,480.0 L324.8,478.6 L326.5,477.3 L328.4,476.1 L330.3,475.1 L332.3,474.3 L334.4,473.7 L336.5,473.2 L338.6,472.9 L340.7,472.5 L342.7,471.6 L344.7,470.8 L346.7,470.1 L348.8,469.6 L351.0,469.3 L353.1,469.2 L355.3,469.2 L357.5,469.5 L359.6,469.9 L361.7,470.5 L363.7,471.2 L365.8,471.3 L368.0,471.4 L370.1,471.6 L372.3,472.0 L374.4,472.6 L376.4,473.3 L378.3,474.2 L380.2,475.3 L382.0,476.6 L383.7,477.9 L385.2,479.4 L386.9,480.7 L388.8,481.7 L390.7,482.8 L392.5,484.0 L394.2,485.3 L395.8,486.8 L397.2,488.4 L398.5,490.2 L399.6,492.0 L400.6,494.0 L401.4,496.0 L402.1,498.0 L403.4,499.7 L404.7,501.4 L405.8,503.3 L406.8,505.2 L407.7,507.2 L408.3,509.2 L408.8,511.4 L409.1,513.5 L409.2,515.7 L409.1,517.8 L409.0,520.0 L409.0,522.1Z" fill="#a2a5d4"/><path d="M408.3,523.8 L408.6,525.9 L408.8,528.0 L408.7,530.1 L408.5,532.2 L408.1,534.3 L407.5,536.3 L406.8,538.3 L405.9,540.2 L404.8,542.1 L403.7,543.9 L403.3,545.9 L402.7,547.9 L402.0,549.9 L401.1,551.9 L400.1,553.7 L398.9,555.5 L397.6,557.1 L396.1,558.6 L394.5,560.0 L392.8,561.3 L391.0,562.4 L389.5,563.8 L388.1,565.5 L386.7,567.0 L385.1,568.4 L383.4,569.7 L381.6,570.8 L379.8,571.8 L377.8,572.6 L375.8,573.2 L373.7,573.6 L371.6,574.0 L369.5,574.3 L367.6,575.2 L365.7,576.0 L363.7,576.7 L361.6,577.2 L359.5,577.5 L357.4,577.6 L355.3,577.6 L353.2,577.3 L351.1,576.9 L349.1,576.3 L347.1,575.7 L345.0,575.5 L342.9,575.4 L340.8,575.2 L338.7,574.9 L336.7,574.3 L334.7,573.6 L332.8,572.7 L330.9,571.6 L329.2,570.4 L327.6,569.1 L326.0,567.6 L324.4,566.3 L322.5,565.4 L320.7,564.3 L318.9,563.1 L317.3,561.8 L315.7,560.4 L314.3,558.8 L313.1,557.1 L312.0,555.3 L311.0,553.4 L310.2,551.4 L309.5,549.4 L308.3,547.8 L307.0,546.0 L305.9,544.3 L304.9,542.4 L304.1,540.4 L303.4,538.4 L303.0,536.4 L302.7,534.3 L302.6,532.1 L302.6,530.0 L302.8,527.9 L302.8,525.9 L302.3,523.8 L302.0,521.7 L301.8,519.6 L301.9,517.5 L302.1,515.4 L302.5,513.3 L303.1,511.3 L303.8,509.3 L304.7,507.4 L305.8,505.5 L306.9,503.7 L307.3,501.7 L307.9,499.7 L308.6,497.7 L309.5,495.7 L310.5,493.9 L311.7,492.1 L313.0,490.5 L314.5,489.0 L316.1,487.6 L317.8,486.3 L319.6,485.2 L321.1,483.8 L322.5,482.1 L323.9,480.6 L325.5,479.2 L327.2,477.9 L329.0,476.8 L330.8,475.8 L332.8,475.0 L334.8,474.4 L336.9,474.0 L339.0,473.6 L341.1,473.3 L343.0,472.4 L344.9,471.6 L346.9,470.9 L349.0,470.4 L351.1,470.1 L353.2,470.0 L355.3,470.0 L357.4,470.3 L359.5,470.7 L361.5,471.3 L363.5,471.9 L365.6,472.1 L367.7,472.2 L369.8,472.4 L371.9,472.7 L373.9,473.3 L375.9,474.0 L377.8,474.9 L379.7,476.0 L381.4,477.2 L383.0,478.5 L384.6,480.0 L386.2,481.3 L388.1,482.2 L389.9,483.3 L391.7,484.5 L393.3,485.8 L394.9,487.2 L396.3,488.8 L397.5,490.5 L398.6,492.3 L399.6,494.2 L400.4,496.2 L401.1,498.2 L402.3,499.8 L403.6,501.6 L404.7,503.3 L405.7,505.2 L406.5,507.2 L407.2,509.2 L407.6,511.2 L407.9,513.3 L408.0,515.5 L408.0,517.6 L407.8,519.7 L407.8,521.7Z" fill="url(#bagg)"/><g filter="url(#blur1)"><circle cx="355.3" cy="523.8000000000001" r="49.5" fill="none" stroke="url(#bagrim)" stroke-width="4"/></g><g filter="url(#blur1)"><path d="M350.4,503.8 Q351.3,489.3 348.2,472.7" stroke="#b4b6dc" stroke-width="2.4" fill="none" opacity="0.55"/><path d="M361.8,504.3 Q371.9,492.0 377.9,477.6" stroke="#b4b6dc" stroke-width="2.4" fill="none" opacity="0.55"/><path d="M371.8,512.7 Q385.9,509.7 396.1,504.8" stroke="#b4b6dc" stroke-width="2.4" fill="none" opacity="0.55"/><path d="M373.2,528.7 Q387.3,537.1 397.4,543.5" stroke="#b4b6dc" stroke-width="2.4" fill="none" opacity="0.55"/><path d="M364.8,538.7 Q371.9,554.4 374.9,568.2" stroke="#b4b6dc" stroke-width="2.4" fill="none" opacity="0.55"/><path d="M353.6,541.1 Q351.3,557.1 345.0,571.1" stroke="#b4b6dc" stroke-width="2.4" fill="none" opacity="0.55"/><path d="M343.1,536.8 Q334.0,546.6 320.9,554.5" stroke="#b4b6dc" stroke-width="2.4" fill="none" opacity="0.55"/><path d="M336.4,523.9 Q325.6,523.3 310.9,520.7" stroke="#b4b6dc" stroke-width="2.4" fill="none" opacity="0.55"/><path d="M339.7,511.3 Q330.9,501.1 318.1,488.8" stroke="#b4b6dc" stroke-width="2.4" fill="none" opacity="0.55"/><path d="M348.8,504.3 Q348.7,491.3 344.6,476.2" stroke="#b4b6dc" stroke-width="2.4" fill="none" opacity="0.55"/></g><circle cx="354.90000000000003" cy="521.6" r="17.5" fill="#aeb2da"/><circle cx="354.90000000000003" cy="521.6" r="16.2" fill="#d4d7ee"/><circle cx="354.90000000000003" cy="521.6" r="14.6" fill="#fcfcff"/><circle cx="321.3" cy="537.0" r="3.5" fill="#565ca4"/><circle cx="321.7" cy="536.6" r="1.5" fill="#c4c8ee"/><rect x="455" y="472" width="148" height="97" fill="#ffffff"/><rect x="467.9" y="484.3" width="25.7" height="51.4" fill="none" stroke="#8a8a8a" stroke-width="1.0"/><line x1="467.9" y1="510" x2="493.6" y2="510" stroke="#8a8a8a" stroke-width="1"/><rect x="502.8" y="484.3" width="26.7" height="51.4" fill="none" stroke="#8a8a8a" stroke-width="1.0"/><rect x="540.3" y="484.3" width="25.7" height="51.4" fill="none" stroke="#8a8a8a" stroke-width="1.0"/><rect x="551.3" y="484.3" width="14.7" height="16.5" fill="none" stroke="#8a8a8a" stroke-width="0.9"/><rect x="576.4" y="484.3" width="22.6" height="24.5" fill="none" stroke="#8a8a8a" stroke-width="1.0"/><rect x="576.4" y="511.2" width="22.6" height="24.5" fill="none" stroke="#8a8a8a" stroke-width="1.0"/><rect x="467.9" y="538.8" width="25.7" height="25.1" fill="none" stroke="#9a9a9a" stroke-width="1.1"/><rect x="494.8" y="538.8" width="25.2" height="25.1" fill="none" stroke="#9a9a9a" stroke-width="1.1"/><rect x="521.3" y="538.8" width="25.2" height="25.1" fill="none" stroke="#9a9a9a" stroke-width="1.1"/><rect x="547.6" y="538.8" width="23.9" height="25.1" fill="none" stroke="#9a9a9a" stroke-width="1.1"/><rect x="574" y="538.8" width="24.5" height="25.1" fill="none" stroke="#9a9a9a" stroke-width="1.1"/><rect x="493.6" y="477" width="4.3" height="58.7" fill="#c4c4c4"/><line x1="493.6" y1="479.5" x2="497.90000000000003" y2="478" stroke="#7a7a7a" stroke-width="0.6"/><line x1="493.6" y1="481.5" x2="497.90000000000003" y2="480" stroke="#7a7a7a" stroke-width="0.6"/><line x1="493.6" y1="483.5" x2="497.90000000000003" y2="482" stroke="#7a7a7a" stroke-width="0.6"/><line x1="493.6" y1="485.5" x2="497.90000000000003" y2="484" stroke="#7a7a7a" stroke-width="0.6"/><line x1="493.6" y1="487.5" x2="497.90000000000003" y2="486" stroke="#7a7a7a" stroke-width="0.6"/><line x1="493.6" y1="489.5" x2="497.90000000000003" y2="488" stroke="#7a7a7a" stroke-width="0.6"/><line x1="493.6" y1="491.5" x2="497.90000000000003" y2="490" stroke="#7a7a7a" stroke-width="0.6"/><line x1="493.6" y1="493.5" x2="497.90000000000003" y2="492" stroke="#7a7a7a" stroke-width="0.6"/><line x1="493.6" y1="495.5" x2="497.90000000000003" y2="494" stroke="#7a7a7a" stroke-width="0.6"/><line x1="493.6" y1="497.5" x2="497.90000000000003" y2="496" stroke="#7a7a7a" stroke-width="0.6"/><line x1="493.6" y1="499.5" x2="497.90000000000003" y2="498" stroke="#7a7a7a" stroke-width="0.6"/><line x1="493.6" y1="501.5" x2="497.90000000000003" y2="500" stroke="#7a7a7a" stroke-width="0.6"/><line x1="493.6" y1="503.5" x2="497.90000000000003" y2="502" stroke="#7a7a7a" stroke-width="0.6"/><line x1="493.6" y1="505.5" x2="497.90000000000003" y2="504" stroke="#7a7a7a" stroke-width="0.6"/><line x1="493.6" y1="507.5" x2="497.90000000000003" y2="506" stroke="#7a7a7a" stroke-width="0.6"/><line x1="493.6" y1="509.5" x2="497.90000000000003" y2="508" stroke="#7a7a7a" stroke-width="0.6"/><line x1="493.6" y1="511.5" x2="497.90000000000003" y2="510" stroke="#7a7a7a" stroke-width="0.6"/><line x1="493.6" y1="513.5" x2="497.90000000000003" y2="512" stroke="#7a7a7a" stroke-width="0.6"/><line x1="493.6" y1="515.5" x2="497.90000000000003" y2="514" stroke="#7a7a7a" stroke-width="0.6"/><line x1="493.6" y1="517.5" x2="497.90000000000003" y2="516" stroke="#7a7a7a" stroke-width="0.6"/><line x1="493.6" y1="519.5" x2="497.90000000000003" y2="518" stroke="#7a7a7a" stroke-width="0.6"/><line x1="493.6" y1="521.5" x2="497.90000000000003" y2="520" stroke="#7a7a7a" stroke-width="0.6"/><line x1="493.6" y1="523.5" x2="497.90000000000003" y2="522" stroke="#7a7a7a" stroke-width="0.6"/><line x1="493.6" y1="525.5" x2="497.90000000000003" y2="524" stroke="#7a7a7a" stroke-width="0.6"/><line x1="493.6" y1="527.5" x2="497.90000000000003" y2="526" stroke="#7a7a7a" stroke-width="0.6"/><line x1="493.6" y1="529.5" x2="497.90000000000003" y2="528" stroke="#7a7a7a" stroke-width="0.6"/><line x1="493.6" y1="531.5" x2="497.90000000000003" y2="530" stroke="#7a7a7a" stroke-width="0.6"/><line x1="493.6" y1="533.5" x2="497.90000000000003" y2="532" stroke="#7a7a7a" stroke-width="0.6"/><line x1="493.6" y1="535.5" x2="497.90000000000003" y2="534" stroke="#7a7a7a" stroke-width="0.6"/><rect x="529.5" y="477" width="4.5" height="58.7" fill="#c4c4c4"/><line x1="529.5" y1="479.5" x2="534.0" y2="478" stroke="#7a7a7a" stroke-width="0.6"/><line x1="529.5" y1="481.5" x2="534.0" y2="480" stroke="#7a7a7a" stroke-width="0.6"/><line x1="529.5" y1="483.5" x2="534.0" y2="482" stroke="#7a7a7a" stroke-width="0.6"/><line x1="529.5" y1="485.5" x2="534.0" y2="484" stroke="#7a7a7a" stroke-width="0.6"/><line x1="529.5" y1="487.5" x2="534.0" y2="486" stroke="#7a7a7a" stroke-width="0.6"/><line x1="529.5" y1="489.5" x2="534.0" y2="488" stroke="#7a7a7a" stroke-width="0.6"/><line x1="529.5" y1="491.5" x2="534.0" y2="490" stroke="#7a7a7a" stroke-width="0.6"/><line x1="529.5" y1="493.5" x2="534.0" y2="492" stroke="#7a7a7a" stroke-width="0.6"/><line x1="529.5" y1="495.5" x2="534.0" y2="494" stroke="#7a7a7a" stroke-width="0.6"/><line x1="529.5" y1="497.5" x2="534.0" y2="496" stroke="#7a7a7a" stroke-width="0.6"/><line x1="529.5" y1="499.5" x2="534.0" y2="498" stroke="#7a7a7a" stroke-width="0.6"/><line x1="529.5" y1="501.5" x2="534.0" y2="500" stroke="#7a7a7a" stroke-width="0.6"/><line x1="529.5" y1="503.5" x2="534.0" y2="502" stroke="#7a7a7a" stroke-width="0.6"/><line x1="529.5" y1="505.5" x2="534.0" y2="504" stroke="#7a7a7a" stroke-width="0.6"/><line x1="529.5" y1="507.5" x2="534.0" y2="506" stroke="#7a7a7a" stroke-width="0.6"/><line x1="529.5" y1="509.5" x2="534.0" y2="508" stroke="#7a7a7a" stroke-width="0.6"/><line x1="529.5" y1="511.5" x2="534.0" y2="510" stroke="#7a7a7a" stroke-width="0.6"/><line x1="529.5" y1="513.5" x2="534.0" y2="512" stroke="#7a7a7a" stroke-width="0.6"/><line x1="529.5" y1="515.5" x2="534.0" y2="514" stroke="#7a7a7a" stroke-width="0.6"/><line x1="529.5" y1="517.5" x2="534.0" y2="516" stroke="#7a7a7a" stroke-width="0.6"/><line x1="529.5" y1="519.5" x2="534.0" y2="518" stroke="#7a7a7a" stroke-width="0.6"/><line x1="529.5" y1="521.5" x2="534.0" y2="520" stroke="#7a7a7a" stroke-width="0.6"/><line x1="529.5" y1="523.5" x2="534.0" y2="522" stroke="#7a7a7a" stroke-width="0.6"/><line x1="529.5" y1="525.5" x2="534.0" y2="524" stroke="#7a7a7a" stroke-width="0.6"/><line x1="529.5" y1="527.5" x2="534.0" y2="526" stroke="#7a7a7a" stroke-width="0.6"/><line x1="529.5" y1="529.5" x2="534.0" y2="528" stroke="#7a7a7a" stroke-width="0.6"/><line x1="529.5" y1="531.5" x2="534.0" y2="530" stroke="#7a7a7a" stroke-width="0.6"/><line x1="529.5" y1="533.5" x2="534.0" y2="532" stroke="#7a7a7a" stroke-width="0.6"/><line x1="529.5" y1="535.5" x2="534.0" y2="534" stroke="#7a7a7a" stroke-width="0.6"/><rect x="566" y="477" width="4.3" height="58.7" fill="#c4c4c4"/><line x1="566" y1="479.5" x2="570.3" y2="478" stroke="#7a7a7a" stroke-width="0.6"/><line x1="566" y1="481.5" x2="570.3" y2="480" stroke="#7a7a7a" stroke-width="0.6"/><line x1="566" y1="483.5" x2="570.3" y2="482" stroke="#7a7a7a" stroke-width="0.6"/><line x1="566" y1="485.5" x2="570.3" y2="484" stroke="#7a7a7a" stroke-width="0.6"/><line x1="566" y1="487.5" x2="570.3" y2="486" stroke="#7a7a7a" stroke-width="0.6"/><line x1="566" y1="489.5" x2="570.3" y2="488" stroke="#7a7a7a" stroke-width="0.6"/><line x1="566" y1="491.5" x2="570.3" y2="490" stroke="#7a7a7a" stroke-width="0.6"/><line x1="566" y1="493.5" x2="570.3" y2="492" stroke="#7a7a7a" stroke-width="0.6"/><line x1="566" y1="495.5" x2="570.3" y2="494" stroke="#7a7a7a" stroke-width="0.6"/><line x1="566" y1="497.5" x2="570.3" y2="496" stroke="#7a7a7a" stroke-width="0.6"/><line x1="566" y1="499.5" x2="570.3" y2="498" stroke="#7a7a7a" stroke-width="0.6"/><line x1="566" y1="501.5" x2="570.3" y2="500" stroke="#7a7a7a" stroke-width="0.6"/><line x1="566" y1="503.5" x2="570.3" y2="502" stroke="#7a7a7a" stroke-width="0.6"/><line x1="566" y1="505.5" x2="570.3" y2="504" stroke="#7a7a7a" stroke-width="0.6"/><line x1="566" y1="507.5" x2="570.3" y2="506" stroke="#7a7a7a" stroke-width="0.6"/><line x1="566" y1="509.5" x2="570.3" y2="508" stroke="#7a7a7a" stroke-width="0.6"/><line x1="566" y1="511.5" x2="570.3" y2="510" stroke="#7a7a7a" stroke-width="0.6"/><line x1="566" y1="513.5" x2="570.3" y2="512" stroke="#7a7a7a" stroke-width="0.6"/><line x1="566" y1="515.5" x2="570.3" y2="514" stroke="#7a7a7a" stroke-width="0.6"/><line x1="566" y1="517.5" x2="570.3" y2="516" stroke="#7a7a7a" stroke-width="0.6"/><line x1="566" y1="519.5" x2="570.3" y2="518" stroke="#7a7a7a" stroke-width="0.6"/><line x1="566" y1="521.5" x2="570.3" y2="520" stroke="#7a7a7a" stroke-width="0.6"/><line x1="566" y1="523.5" x2="570.3" y2="522" stroke="#7a7a7a" stroke-width="0.6"/><line x1="566" y1="525.5" x2="570.3" y2="524" stroke="#7a7a7a" stroke-width="0.6"/><line x1="566" y1="527.5" x2="570.3" y2="526" stroke="#7a7a7a" stroke-width="0.6"/><line x1="566" y1="529.5" x2="570.3" y2="528" stroke="#7a7a7a" stroke-width="0.6"/><line x1="566" y1="531.5" x2="570.3" y2="530" stroke="#7a7a7a" stroke-width="0.6"/><line x1="566" y1="533.5" x2="570.3" y2="532" stroke="#7a7a7a" stroke-width="0.6"/><line x1="566" y1="535.5" x2="570.3" y2="534" stroke="#7a7a7a" stroke-width="0.6"/><rect x="574" y="511" width="2.5" height="24" fill="#b0b0b0"/><rect x="465.20000000000005" y="532.5" width="2.8" height="2.8" fill="#111"/><rect x="500.20000000000005" y="532.5" width="2.8" height="2.8" fill="#111"/><rect x="537.6" y="532.5" width="2.8" height="2.8" fill="#111"/><circle cx="553" cy="487.3" r="1.4" fill="#333"/><path d="M470,507 C478,500 486,498 492,496" stroke="#8e8e8e" stroke-width="0.9" fill="none"/><path d="M475,500 L478,497" stroke="#8e8e8e" stroke-width="0.9" fill="none"/><path d="M470,532 C478,522 486,518 492,514" stroke="#8e8e8e" stroke-width="0.9" fill="none"/><path d="M478,524 L481,521 L479,518" stroke="#8e8e8e" stroke-width="0.9" fill="none"/><path d="M505,488 C512,500 518,515 520,536" stroke="#8e8e8e" stroke-width="0.9" fill="none"/><path d="M510,486 C516,498 524,512 524,536" stroke="#8e8e8e" stroke-width="0.9" fill="none"/><path d="M515,510 L522,518" stroke="#8e8e8e" stroke-width="0.9" fill="none"/><path d="M519,514 L523,520" stroke="#8e8e8e" stroke-width="0.9" fill="none"/><path d="M542,500 C548,510 556,516 566,520" stroke="#8e8e8e" stroke-width="0.9" fill="none"/><path d="M542,522 C550,514 558,508 566,505" stroke="#8e8e8e" stroke-width="0.9" fill="none"/><path d="M546,528 L552,524" stroke="#8e8e8e" stroke-width="0.9" fill="none"/><path d="M554,496 L560,490" stroke="#8e8e8e" stroke-width="0.9" fill="none"/><path d="M582,490 L584,506" stroke="#8e8e8e" stroke-width="0.9" fill="none"/><path d="M590,488 C592,494 590,500 594,506" stroke="#8e8e8e" stroke-width="0.9" fill="none"/><path d="M582,514 L584,534" stroke="#8e8e8e" stroke-width="0.9" fill="none"/><path d="M588,516 C594,520 590,528 596,532" stroke="#8e8e8e" stroke-width="0.9" fill="none"/><path d="M471,546 C478,548 484,549 491,551" stroke="#8e8e8e" stroke-width="0.9" fill="none"/><path d="M498,545 C506,550 512,554 518,561" stroke="#8e8e8e" stroke-width="0.9" fill="none"/><path d="M502,549 L505,545" stroke="#8e8e8e" stroke-width="0.9" fill="none"/><path d="M553,557 C558,553 562,550 566,546" stroke="#8e8e8e" stroke-width="0.9" fill="none"/><path d="M578,560 C586,554 592,548 596,542" stroke="#8e8e8e" stroke-width="0.9" fill="none"/><path d="M596,542 L597,545" stroke="#8e8e8e" stroke-width="0.9" fill="none"/><path d="M530,546 C525,548 524,558 531,560 C538,561 541,552 537,548 Z" fill="none" stroke="#9a9a9a" stroke-width="0.9"/><rect x="490" y="540.5" width="2" height="2.2" fill="#666"/><rect x="516.5" y="540.5" width="2" height="2.2" fill="#666"/><rect x="543" y="540.5" width="2" height="2.2" fill="#666"/><rect x="568" y="540.5" width="2" height="2.2" fill="#666"/><rect x="595" y="540.5" width="2" height="2.2" fill="#666"/><text x="0" y="0" font-family="Liberation Sans" font-size="6" font-weight="bold" fill="#3a3a3a" transform="translate(464.3,529) rotate(-90)" textLength="35" lengthAdjust="spacingAndGlyphs">Install Steps</text><line x1="465.5" y1="549" x2="465.5" y2="563" stroke="#b0b0b0" stroke-width="1.3"/></svg></body></html>
